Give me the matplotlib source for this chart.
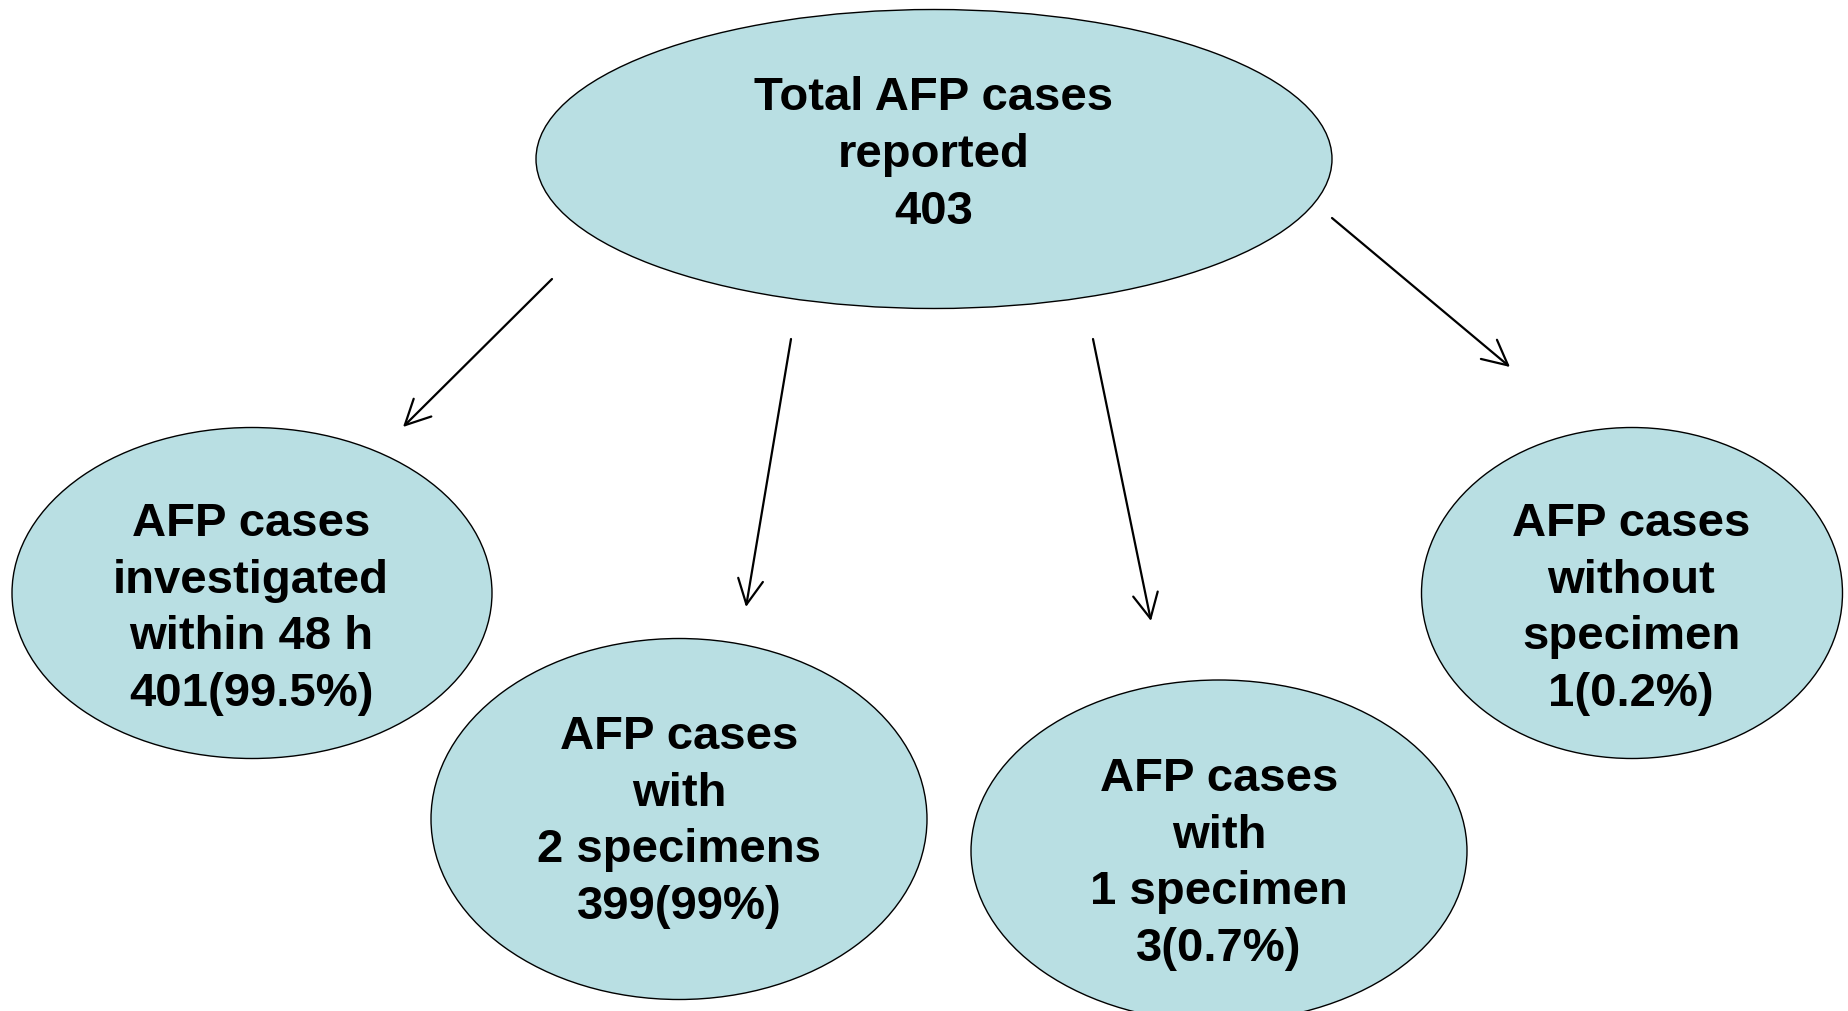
import matplotlib.pyplot as plt
from matplotlib.patches import Ellipse

# node labels and values
labels = [
    "Total AFP cases\nreported\n403",
    "AFP cases\ninvestigated\nwithin 48 h\n401(99.5%)",
    "AFP cases\nwith\n2 specimens\n399(99%)",
    "AFP cases\nwith\n1 specimen\n3(0.7%)",
    "AFP cases\nwithout\nspecimen\n1(0.2%)",
]
# ellipse geometry in pixel coords (cx, cy, w, h)
ellipses = [
    (934, 159, 796, 299),
    (252, 593, 480, 331),
    (679, 819, 496, 361),
    (1219, 851, 496, 342),
    (1632, 593, 421, 331),
]
text_pos = [(934, 155), (251, 609), (679, 822), (1219, 864), (1631, 609)]
arrows = [
    ((552, 279), (403, 427)),
    ((791, 339), (746, 607)),
    ((1093, 339), (1151, 621)),
    ((1332, 218), (1510, 367)),
]

fill = '#b9dfe3'

fig = plt.figure(figsize=(18.48, 10.11), dpi=100)
ax = fig.add_axes([0, 0, 1, 1])
ax.set_xlim(0, 1848)
ax.set_ylim(1011, 0)
ax.axis('off')

for (cx, cy, w, h) in ellipses:
    ax.add_patch(Ellipse((cx, cy), w, h, facecolor=fill, edgecolor='black', linewidth=1.0))

for label, (x, y) in zip(labels, text_pos):
    ax.text(x, y, label, ha='center', va='center', fontsize=34, fontweight='bold',
            family='Liberation Sans', linespacing=1.38, color='black')

for (start, end) in arrows:
    ax.annotate('', xy=end, xytext=start,
                arrowprops=dict(arrowstyle='->,head_length=0.9,head_width=0.45',
                                color='black', lw=1.6, mutation_scale=20,
                                shrinkA=0, shrinkB=0))

fig.savefig('out.png', dpi=100)
